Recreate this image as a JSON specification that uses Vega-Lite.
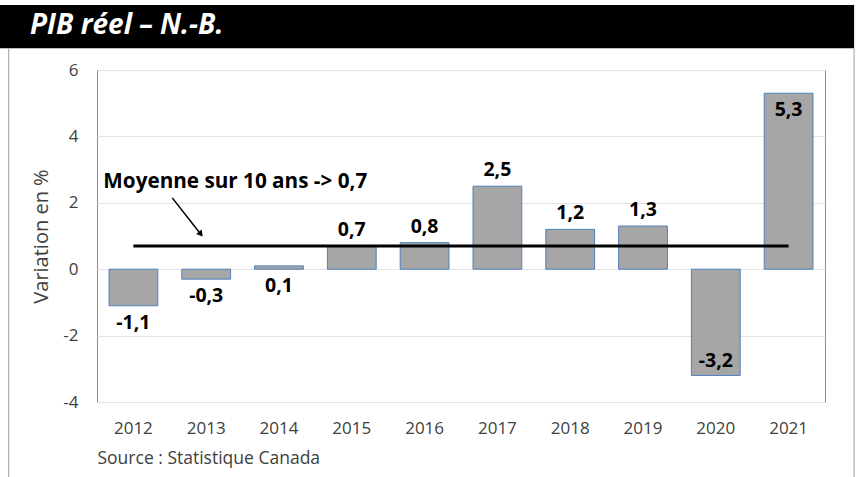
{
  "$schema": "https://vega.github.io/schema/vega-lite/v6.json",
  "width": 728,
  "height": 332,
  "autosize": {"type": "none"},
  "padding": {"left": 97, "top": 70, "right": 32, "bottom": 75},
  "background": "white",
  "config": {
    "font": "Open Sans",
    "view": {"stroke": "#8c8c8c", "strokeWidth": 1},
    "locale": {"number": {"decimal": ",", "thousands": " ", "grouping": [3], "currency": ["", " $"], "minus": "-"}}
  },
  "datasets": {
    "gdp": [
      {"year": "2012", "value": -1.1},
      {"year": "2013", "value": -0.3},
      {"year": "2014", "value": 0.1},
      {"year": "2015", "value": 0.7},
      {"year": "2016", "value": 0.8},
      {"year": "2017", "value": 2.5},
      {"year": "2018", "value": 1.2},
      {"year": "2019", "value": 1.3},
      {"year": "2020", "value": -3.2},
      {"year": "2021", "value": 5.3}
    ],
    "avg": [
      {"year": "2012", "avg": 0.7},
      {"year": "2021", "avg": 0.7}
    ],
    "header": [{"title": "PIB réel – N.-B."}],
    "note": [{"note": "Moyenne sur 10 ans -> 0,7"}]
  },
  "resolve": {"scale": {"x": "independent"}, "axis": {"x": "independent"}},
  "layer": [
    {
      "data": {"name": "gdp"},
      "encoding": {
        "x": {
          "field": "year", "type": "nominal", "title": "Source : Statistique Canada",
          "scale": {"paddingInner": 0.33, "paddingOuter": 0.165},
          "axis": {
            "orient": "bottom", "domain": false, "ticks": false, "labelAngle": 0,
            "labelFontSize": 17, "labelColor": "#404040", "labelPadding": 18,
            "titleAnchor": "start", "titleAlign": "left", "titleFontWeight": "normal",
            "titleFontSize": 17.5, "titleColor": "#404040", "titlePadding": 13
          }
        }
      },
      "layer": [
        {
          "mark": {"type": "rule", "color": "#a6a6a6", "strokeWidth": 1},
          "encoding": {
            "y": {
              "datum": 0, "type": "quantitative",
              "scale": {"domain": [-4, 6], "nice": false, "zero": false},
              "title": "Variation en %",
              "axis": {
                "values": [-4, -2, 0, 2, 4, 6], "domain": false, "ticks": false,
                "grid": true, "gridColor": "#e3e3e3", "format": "d",
                "labelFontSize": 17, "labelColor": "#404040", "labelPadding": 19,
                "titleFontSize": 20, "titleFontWeight": "normal", "titleColor": "#404040",
                "titlePadding": 11
              }
            }
          }
        },
        {
          "mark": {"type": "bar", "color": "#a6a6a6", "stroke": "#4f81bd", "strokeWidth": 1},
          "encoding": {
            "y": {"field": "value", "type": "quantitative", "title": "Variation en %", "scale": {"domain": [-4, 6], "nice": false, "zero": false}}
          }
        },
        {
          "transform": [{"filter": "datum.value > 0.5 && datum.value < 5"}],
          "mark": {"type": "text", "fontSize": 19.5, "fontWeight": "bold", "color": "black", "baseline": "middle", "dy": -16},
          "encoding": {
            "y": {"field": "value", "type": "quantitative", "title": "Variation en %", "scale": {"domain": [-4, 6], "nice": false, "zero": false}},
            "text": {"field": "value", "type": "quantitative", "format": ".1f"}
          }
        },
        {
          "transform": [
            {"filter": "datum.value <= 0.5 && datum.value > -3"},
            {"calculate": "min(datum.value, 0)", "as": "anchor"}
          ],
          "mark": {"type": "text", "fontSize": 19.5, "fontWeight": "bold", "color": "black", "baseline": "middle", "dy": 17},
          "encoding": {
            "y": {"field": "anchor", "type": "quantitative", "title": "Variation en %", "scale": {"domain": [-4, 6], "nice": false, "zero": false}},
            "text": {"field": "value", "type": "quantitative", "format": ".1f"}
          }
        },
        {
          "transform": [{"filter": "datum.value >= 5"}],
          "mark": {"type": "text", "fontSize": 19.5, "fontWeight": "bold", "color": "black", "baseline": "middle", "dy": 17},
          "encoding": {
            "y": {"field": "value", "type": "quantitative", "title": "Variation en %", "scale": {"domain": [-4, 6], "nice": false, "zero": false}},
            "text": {"field": "value", "type": "quantitative", "format": ".1f"}
          }
        },
        {
          "transform": [{"filter": "datum.value <= -3"}],
          "mark": {"type": "text", "fontSize": 19.5, "fontWeight": "bold", "color": "black", "baseline": "middle", "dy": -14},
          "encoding": {
            "y": {"field": "value", "type": "quantitative", "title": "Variation en %", "scale": {"domain": [-4, 6], "nice": false, "zero": false}},
            "text": {"field": "value", "type": "quantitative", "format": ".1f"}
          }
        },
        {
          "data": {"name": "avg"},
          "mark": {"type": "line", "color": "black", "strokeWidth": 3},
          "encoding": {
            "y": {"field": "avg", "type": "quantitative", "title": "Variation en %", "scale": {"domain": [-4, 6], "nice": false, "zero": false}}
          }
        }
      ]
    },
    {
      "data": {"name": "header"},
      "mark": {"type": "rect", "color": "black"},
      "encoding": {
        "x": {"datum": -1.4, "type": "quantitative", "scale": {"domain": [0, 10], "nice": false, "zero": false}, "axis": null},
        "x2": {"datum": 10.4},
        "y": {"datum": 7.958, "type": "quantitative", "title": "Variation en %", "scale": {"domain": [-4, 6], "nice": false, "zero": false}},
        "y2": {"datum": 6.654}
      }
    },
    {
      "data": {"name": "header"},
      "mark": {"type": "text", "color": "white", "fontSize": 28, "fontWeight": "bold", "fontStyle": "italic", "align": "left", "baseline": "middle"},
      "encoding": {
        "x": {"datum": -0.92, "type": "quantitative", "scale": {"domain": [0, 10], "nice": false, "zero": false}, "axis": null},
        "y": {"datum": 7.33, "type": "quantitative", "title": "Variation en %", "scale": {"domain": [-4, 6], "nice": false, "zero": false}},
        "text": {"field": "title"}
      }
    },
    {
      "data": {"values": [{"side": "left", "pos": -1.213}, {"side": "right", "pos": 10.4}]},
      "mark": {"type": "rule", "color": "#a0a0a0", "strokeWidth": 1},
      "encoding": {
        "x": {"field": "pos", "type": "quantitative", "scale": {"domain": [0, 10], "nice": false, "zero": false}, "axis": null},
        "y": {"datum": 6.654, "type": "quantitative", "title": "Variation en %", "scale": {"domain": [-4, 6], "nice": false, "zero": false}},
        "y2": {"datum": -7}
      }
    },
    {
      "data": {"name": "note"},
      "mark": {"type": "text", "color": "black", "fontSize": 20.7, "fontWeight": "bold", "align": "left", "baseline": "middle"},
      "encoding": {
        "x": {"datum": 0.087, "type": "quantitative", "scale": {"domain": [0, 10], "nice": false, "zero": false}, "axis": null},
        "y": {"datum": 2.636, "type": "quantitative", "title": "Variation en %", "scale": {"domain": [-4, 6], "nice": false, "zero": false}},
        "text": {"field": "note"}
      }
    },
    {
      "data": {"name": "note"},
      "mark": {"type": "rule", "color": "black", "strokeWidth": 1.5},
      "encoding": {
        "x": {"datum": 1.034, "type": "quantitative", "scale": {"domain": [0, 10], "nice": false, "zero": false}, "axis": null},
        "x2": {"datum": 1.426},
        "y": {"datum": 2.148, "type": "quantitative", "title": "Variation en %", "scale": {"domain": [-4, 6], "nice": false, "zero": false}},
        "y2": {"datum": 1.054}
      }
    },
    {
      "data": {"name": "note"},
      "mark": {"type": "point", "shape": "triangle-up", "filled": true, "color": "black", "size": 50, "angle": 142, "opacity": 1},
      "encoding": {
        "x": {"datum": 1.426, "type": "quantitative", "scale": {"domain": [0, 10], "nice": false, "zero": false}, "axis": null},
        "y": {"datum": 1.054, "type": "quantitative", "title": "Variation en %", "scale": {"domain": [-4, 6], "nice": false, "zero": false}}
      }
    }
  ]
}
